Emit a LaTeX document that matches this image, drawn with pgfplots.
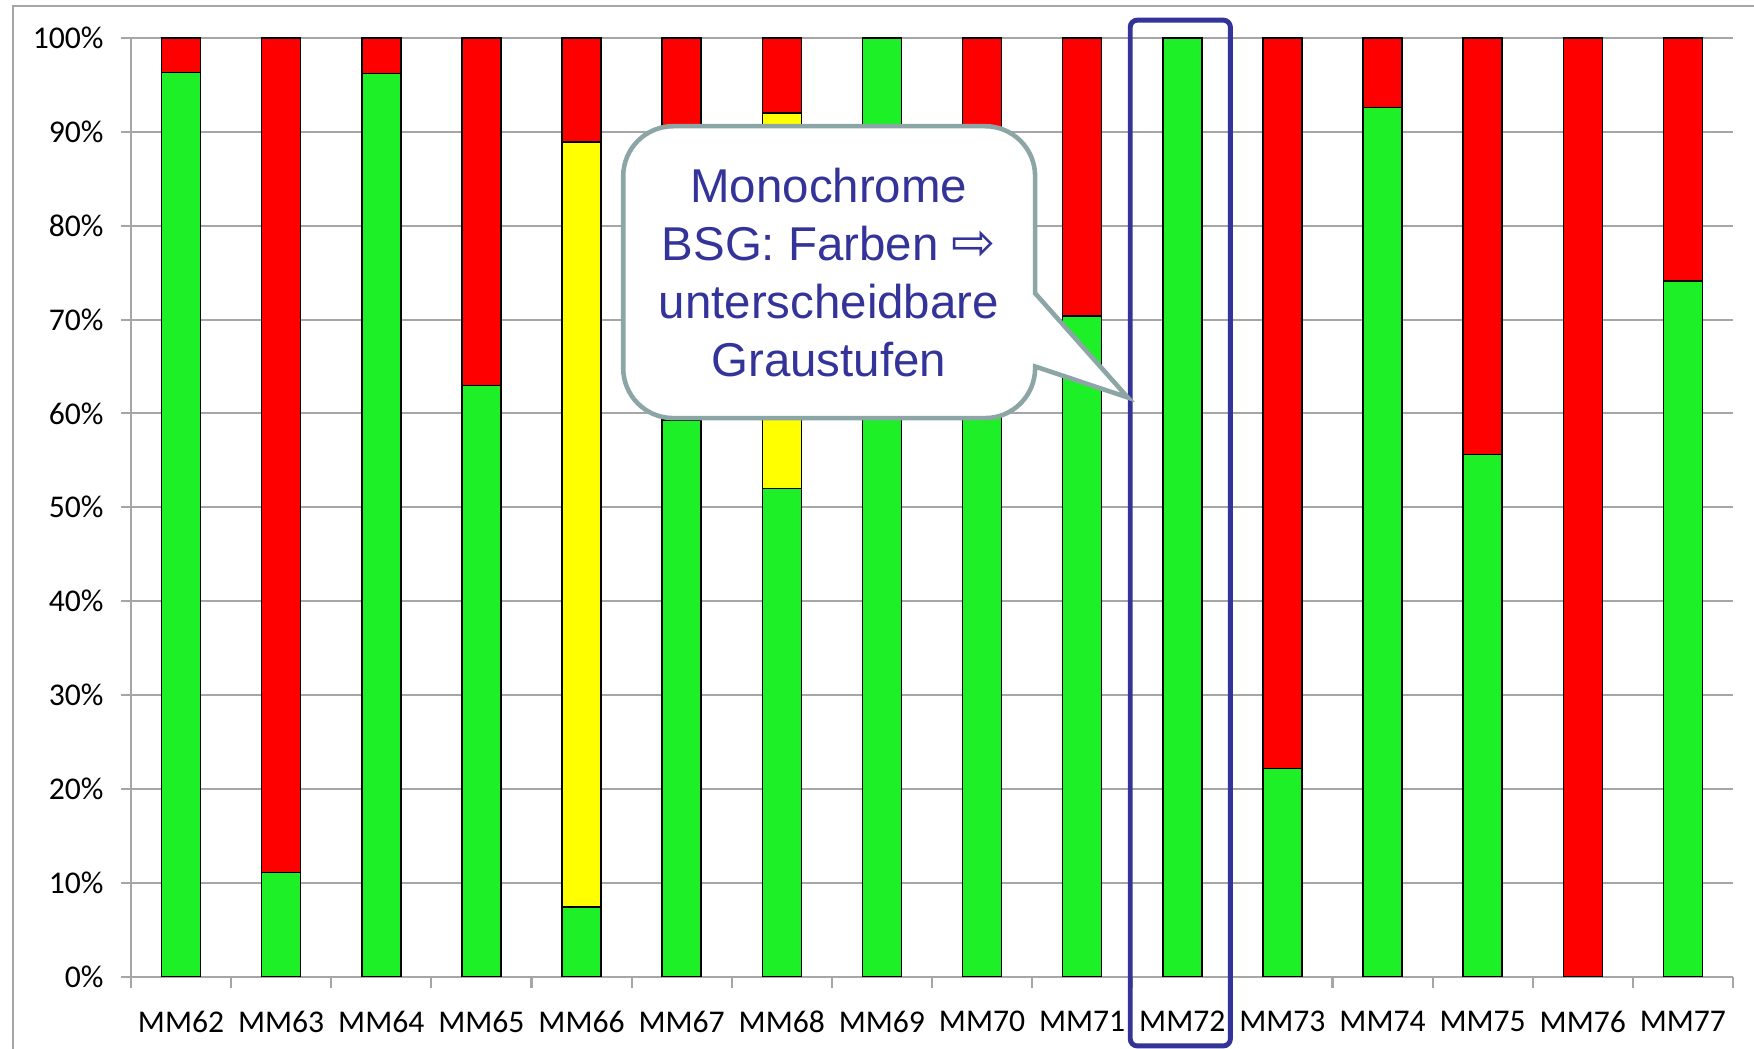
\documentclass[border=0pt]{standalone}
\usepackage{pgfplots}
\pgfplotsset{compat=1.18}
\usepackage{fontspec}
\setmainfont{Carlito}
\newfontfamily\callfont{Liberation Sans}
\newfontfamily\dejavu{DejaVu Sans}
\definecolor{bargreen}{RGB}{30,240,40}
\definecolor{barred}{RGB}{255,0,0}
\definecolor{baryellow}{RGB}{255,255,0}
\definecolor{gridgray}{RGB}{166,166,166}
\definecolor{callblue}{RGB}{51,51,153}
\definecolor{callrim}{RGB}{140,165,165}

\begin{document}
\begin{tikzpicture}
\path[use as bounding box] (0,0) rectangle (17.54,10.49);
\draw[gridgray, line width=0.8pt] (0.13,0) -- (0.13,10.43) -- (17.54,10.43);
\begin{axis}[at={(1.31cm,0.724cm)}, anchor=south west,
  scale only axis, width=16.02cm, height=9.386cm,
  ybar stacked, bar width=0.39cm, clip=false,
  xmin=-0.5, xmax=15.5, ymin=0, ymax=100,
  axis lines=left, axis line style={gridgray,-,line width=0.6pt},
  xtick={0,...,15},
  xticklabels={MM62,MM63,MM64,MM65,MM66,MM67,MM68,MM69,MM70,MM71,MM72,MM73,MM74,MM75,MM76,MM77},
  minor xtick={-0.5,0.5,...,15.5},
  major x tick style={draw=none},
  ytick={0,10,...,100},
  yticklabels={0\%,10\%,20\%,30\%,40\%,50\%,60\%,70\%,80\%,90\%,100\%},
  tick align=outside, major tick length=0.1cm, minor tick length=0.11cm,
  tick style={gridgray, line width=0.6pt},
  ymajorgrids, grid style={gridgray, line width=0.6pt},
  tick label style={font=\fontsize{9}{10}\selectfont},
  xticklabel style={yshift=-0.12cm},
  yticklabel style={xshift=-0.05cm}]
% green = ok, yellow = partly, red = not ok (shares in %)
\addplot[fill=bargreen, draw=black, line width=0.4pt] coordinates {
  (0,96.3) (1,11.1) (2,96.2) (3,63.0) (4,7.4) (5,59.3) (6,52.0) (7,100)
  (8,81.5) (9,70.4) (10,100) (11,22.2) (12,92.6) (13,55.6) (14,0) (15,74.1)};
\addplot[fill=baryellow, draw=black, line width=0.4pt] coordinates {
  (0,0) (1,0) (2,0) (3,0) (4,81.5) (5,0) (6,40.0) (7,0)
  (8,0) (9,0) (10,0) (11,0) (12,0) (13,0) (14,0) (15,0)};
\addplot[fill=barred, draw=black, line width=0.4pt] coordinates {
  (0,3.7) (1,88.9) (2,3.8) (3,37.0) (4,11.1) (5,40.7) (6,8.0) (7,0)
  (8,18.5) (9,29.6) (10,0) (11,77.8) (12,7.4) (13,44.4) (14,100) (15,25.9)};
% anchor points for the annotations, drawn after the axis
\coordinate (hl1) at (axis cs:9.48,-7.39);
\coordinate (hl2) at (axis cs:10.48,101.9);
\coordinate (cA) at (axis cs:6.4,90.6);
\coordinate (cB) at (axis cs:8.53,90.6);
\coordinate (cC) at (axis cs:8.53,72.8);
\coordinate (cT) at (axis cs:9.455,61.7);
\coordinate (cD) at (axis cs:8.53,65.0);
\coordinate (cE) at (axis cs:8.53,59.5);
\coordinate (cF) at (axis cs:4.416,59.5);
\coordinate (cG) at (axis cs:4.416,90.6);
\coordinate (cText) at (axis cs:6.47,75.0);
\end{axis}
% highlight of MM72
\draw[callblue, line width=1.4pt, rounded corners=2pt] (hl1) rectangle (hl2);
% callout
\draw[callrim, fill=white, line width=1.3pt]
  (cA) [rounded corners=0.5cm] -- (cB)
  [sharp corners] -- (cC) -- (cT) -- (cD)
  [rounded corners=0.5cm] -- (cE) -- (cF) -- (cG) -- cycle;
\node[align=center, text=callblue, font=\callfont\fontsize{13.5}{16.5}\selectfont]
  at (cText)
  {Monochrome\\BSG: Farben {\dejavu\fontsize{15}{16.5}\selectfont ⇨}\\unterscheidbare\\Graustufen};
\end{tikzpicture}
\end{document}
